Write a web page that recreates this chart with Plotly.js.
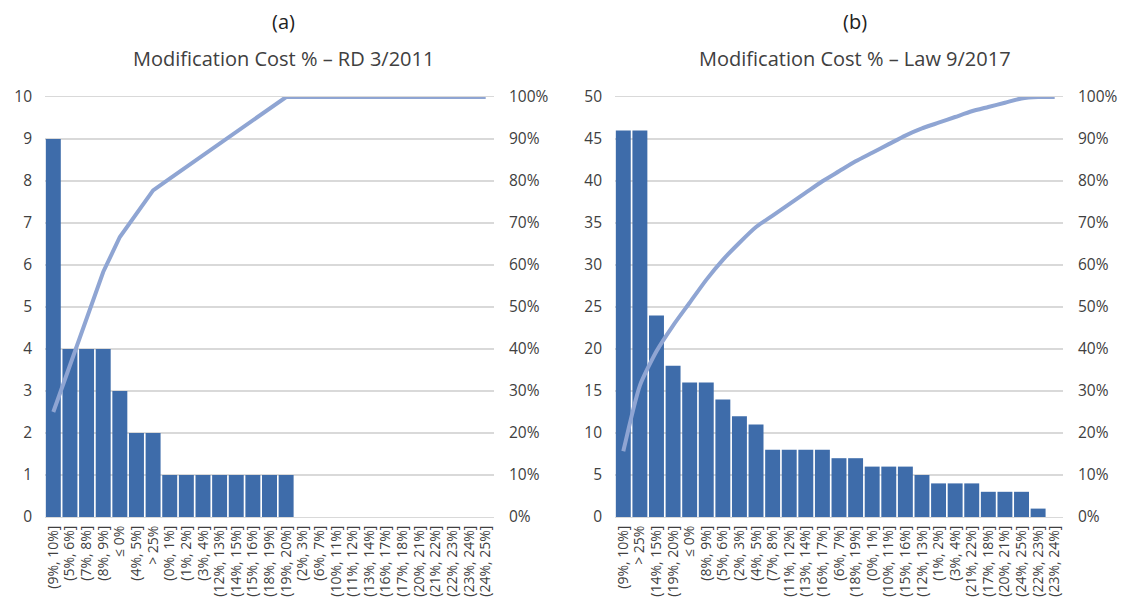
<!DOCTYPE html>
<html><head><meta charset="utf-8">
<script src="https://cdn.plot.ly/plotly-3.0.1.min.js"></script>
<style>html,body{margin:0;padding:0;background:#fff;}#chart{width:1131px;height:615px;}</style>
</head><body><div id="chart"></div>
<script>
const categoriesA = ["(9%, 10%]","(5%, 6%]","(7%, 8%]","(8%, 9%]","≤ 0%","(4%, 5%]","> 25%","(0%, 1%]","(1%, 2%]","(3%, 4%]","(12%, 13%]","(14%, 15%]","(15%, 16%]","(18%, 19%]","(19%, 20%]","(2%, 3%]","(6%, 7%]","(10%, 11%]","(11%, 12%]","(13%, 14%]","(16%, 17%]","(17%, 18%]","(20%, 21%]","(21%, 22%]","(22%, 23%]","(23%, 24%]","(24%, 25%]"];
const valuesA = [9,4,4,4,3,2,2,1,1,1,1,1,1,1,1,0,0,0,0,0,0,0,0,0,0,0,0];
const categoriesB = ["(9%, 10%]","> 25%","(14%, 15%]","(19%, 20%]","≤ 0%","(8%, 9%]","(5%, 6%]","(2%, 3%]","(4%, 5%]","(7%, 8%]","(11%, 12%]","(13%, 14%]","(16%, 17%]","(6%, 7%]","(18%, 19%]","(0%, 1%]","(10%, 11%]","(15%, 16%]","(12%, 13%]","(1%, 2%]","(3%, 4%]","(21%, 22%]","(17%, 18%]","(20%, 21%]","(24%, 25%]","(22%, 23%]","(23%, 24%]"];
const valuesB = [46,46,24,18,16,16,14,12,11,8,8,8,8,7,7,6,6,6,5,4,4,4,3,3,3,1,0];
const titleA = "Modification Cost % – RD 3/2011";
const titleB = "Modification Cost % – Law 9/2017";

function cumulative(v){const t=v.reduce((a,b)=>a+b,0);let s=0;return v.map(x=>{s+=x;return s/t;});}

const barColor = "#3E6CAA";
const lineColor = "#8FA5D3";
const font = "'Open Sans', 'Liberation Sans', sans-serif";

const traces = [
  {type:"bar", x:categoriesA, y:valuesA, xaxis:"x", yaxis:"y", marker:{color:barColor}},
  {type:"scatter", mode:"lines", x:categoriesA, y:cumulative(valuesA), xaxis:"x", yaxis:"y2", line:{color:lineColor, width:4}},
  {type:"bar", x:categoriesB, y:valuesB, xaxis:"x2", yaxis:"y3", marker:{color:barColor}},
  {type:"scatter", mode:"lines", x:categoriesB, y:cumulative(valuesB), xaxis:"x2", yaxis:"y4", line:{color:lineColor, width:4, shape:"spline", smoothing:0.6}}
];

const W=1131,H=615;
const yDom=[(H-517)/H,(H-97)/H];
const gridc="#D9D9D9";
const tickFont={family:font,size:15.5,color:"#404040"};
function xa(l,r,anchor){return {domain:[l/W,r/W], anchor:anchor, type:"category", tickmode:"linear", tick0:0, dtick:1, tickangle:-90, tickfont:{family:font,size:14,color:"#404040"}, showline:true, linecolor:gridc, mirror:true, ticks:"", showgrid:false, ticklabelstandoff:2};}
function yl(max,dt,anchor){return {domain:yDom, range:[0,max], dtick:dt, anchor:anchor, tickfont:tickFont, showgrid:true, gridcolor:gridc, gridwidth:1.3, zeroline:false, showline:false, ticks:"", ticklabelstandoff:12};}
function yr(anchor,over){return {domain:yDom, range:[0,1], dtick:0.1, tickformat:".0%", side:"right", overlaying:over, anchor:anchor, tickfont:tickFont, showgrid:false, zeroline:false, showline:false, ticks:"", ticklabelstandoff:14};}

function ann(text,x,y,color){return {text:text, x:x/W, y:1-y/H, xref:"paper", yref:"paper", xanchor:"center", yanchor:"middle", showarrow:false, font:{family:font,size:20,color:color}};}

const layout = {
  width:W, height:H, margin:{l:0,r:0,t:0,b:0}, showlegend:false, bargap:0.1,
  paper_bgcolor:"#fff", plot_bgcolor:"#fff", font:{family:font},
  xaxis:xa(45,494,"y"), xaxis2:xa(615,1063,"y3"),
  yaxis:yl(10,1,"x"), yaxis2:yr("x","y"),
  yaxis3:yl(50,5,"x2"), yaxis4:yr("x2","y3"),
  annotations:[
    ann("(a)",283,22,"#222"),
    ann(titleA,283,58,"#404040"),
    ann("(b)",855,22,"#222"),
    ann(titleB,855,58,"#404040")
  ]
};
Plotly.newPlot("chart", traces, layout, {staticPlot:true});
</script></body></html>
